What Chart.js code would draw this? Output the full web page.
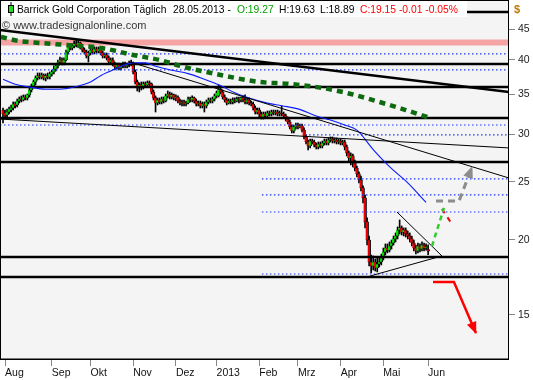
<!DOCTYPE html>
<html><head><meta charset="utf-8">
<script src="https://cdn.jsdelivr.net/npm/chart.js@4.4.0/dist/chart.umd.min.js"></script>
<style>html,body{margin:0;padding:0;background:#fff;}canvas{display:block;}</style>
</head><body>
<canvas id="c" width="533" height="380"></canvas>
<script>
// ---- categories / ticks ----
const monthLabels = ['Aug','Sep','Okt','Nov','Dez','2013','Feb','Mrz','Apr','Mai','Jun'];
const monthIdx = [1,24,43,64,85,105,126,145,166,187,209];
const yTicks = [15,20,25,30,35,40,45];

// ---- daily OHLC (Barrick Gold) ----
const open = [32.95,32.58,32.33,32.70,32.95,33.21,33.73,33.60,34.12,34.38,34.25,34.65,34.52,34.92,35.59,36.15,36.71,37.28,37.57,37.42,
37.71,37.28,37.57,37.42,37.86,38.15,38.59,39.04,39.64,39.94,39.49,39.94,41.19,42.00,41.84,42.16,42.49,42.32,42.65,42.00,
41.51,41.19,40.57,41.04,41.51,41.19,41.67,41.35,41.67,41.04,40.57,40.73,40.26,39.64,39.94,39.34,38.89,39.19,38.74,39.04,
39.34,39.04,39.19,39.49,39.34,38.15,36.71,35.87,36.29,36.01,36.43,36.29,36.57,36.43,35.32,34.52,33.86,34.25,33.99,34.38,
34.12,34.79,35.05,34.65,34.92,34.52,34.65,34.12,33.86,33.99,33.73,33.86,34.38,34.25,34.52,34.12,33.73,33.86,33.47,33.73,
33.47,33.99,34.25,34.12,34.38,34.79,34.79,35.73,35.32,34.65,34.25,33.86,34.12,33.99,34.25,34.12,34.38,34.25,34.52,34.25,
33.99,34.25,33.86,33.73,33.21,32.70,32.95,32.45,32.08,32.45,32.21,32.58,32.45,32.70,32.58,32.70,32.45,32.58,32.45,32.21,
31.83,31.47,30.88,30.40,30.88,31.11,30.88,31.00,30.52,29.71,29.14,28.70,29.25,29.14,28.81,28.59,28.92,28.70,29.03,29.25,
29.03,29.36,29.48,29.25,29.36,29.14,29.25,29.03,29.14,28.59,27.94,27.40,27.62,26.88,26.37,25.77,25.18,24.42,23.50,21.43,
19.99,18.37,18.09,18.37,17.95,18.23,18.37,18.65,19.09,19.38,19.23,19.53,19.76,20.07,20.30,20.77,20.94,20.61,20.77,20.46,
20.30,20.07,19.76,19.38,19.16,19.53,19.31,19.61,19.38,19.27];
const high = [33.21,32.95,33.08,33.34,33.60,33.99,33.99,34.38,34.65,34.79,34.92,34.92,35.05,35.87,36.43,36.99,37.57,38.00,38.00,38.00,
37.86,37.86,38.00,38.15,38.44,39.04,39.34,39.94,40.41,40.26,40.26,41.51,42.32,42.49,42.49,42.97,43.14,43.14,42.81,42.32,
41.84,41.51,41.35,41.84,41.84,42.00,42.00,42.00,41.84,41.35,41.04,41.04,40.57,40.26,40.26,39.64,39.49,39.49,39.34,39.64,
39.64,39.49,39.79,39.94,39.64,38.44,36.99,36.57,36.71,36.71,36.71,36.85,36.85,36.57,35.59,34.79,34.52,34.52,34.65,34.65,
35.05,35.46,35.32,35.19,35.05,34.92,34.79,34.38,34.25,34.25,34.12,34.65,34.65,34.79,34.65,34.38,34.12,34.12,33.99,33.99,
34.25,34.52,34.52,34.65,35.05,35.46,36.29,36.01,35.59,34.92,34.52,34.38,34.38,34.52,34.52,34.65,34.65,34.65,34.79,34.92,
34.52,34.52,34.12,33.99,33.47,33.21,33.21,32.70,32.70,32.70,32.83,32.83,32.95,32.95,32.95,32.95,32.83,33.47,32.70,32.45,
32.08,31.71,31.11,31.11,31.35,31.35,31.23,31.23,30.76,29.94,29.36,29.48,29.48,29.36,29.03,29.14,29.14,29.25,29.48,29.48,
29.59,29.71,29.71,29.59,29.59,29.48,29.48,29.36,29.36,28.81,28.15,27.94,27.83,27.19,26.57,25.97,25.57,24.61,23.77,21.76,
20.30,18.87,18.80,18.58,18.65,18.73,18.94,19.38,19.69,19.69,19.84,19.99,20.30,20.54,21.02,21.59,21.10,20.94,20.94,20.69,
20.54,20.30,19.99,19.61,19.76,19.69,19.84,19.76,19.69,19.63];
const low = [31.35,31.96,32.08,32.45,32.70,32.95,33.21,33.34,33.86,33.99,34.12,34.25,34.25,34.65,35.32,35.87,36.29,36.99,37.13,37.13,
36.99,36.85,37.13,37.13,37.57,37.86,38.29,38.74,39.34,39.19,39.19,39.79,40.88,41.51,41.51,41.84,42.00,42.00,41.67,41.19,
40.88,40.26,39.64,40.73,40.88,40.88,41.04,41.04,40.73,40.26,40.26,39.94,39.34,39.34,39.04,38.44,38.59,38.44,38.44,38.74,
38.74,38.74,38.89,39.04,37.86,36.43,35.46,35.32,35.59,35.73,36.01,36.01,36.15,35.05,34.25,32.70,33.60,33.73,33.73,33.86,
33.99,34.52,34.38,34.38,34.25,34.12,33.86,33.60,33.47,33.47,33.47,33.73,33.99,33.99,33.86,33.47,33.47,33.21,33.21,32.70,
33.21,33.73,33.86,33.86,34.12,34.52,34.65,35.05,34.38,33.99,33.60,33.73,33.73,33.73,33.86,33.99,33.86,33.99,33.99,33.73,
33.73,33.60,33.47,32.95,32.45,32.45,32.08,31.83,31.83,31.96,32.08,32.21,32.21,32.33,32.33,32.21,32.21,32.21,31.96,31.59,
31.23,30.64,30.17,30.17,30.64,30.64,30.76,30.28,29.48,28.92,28.26,28.48,28.92,28.59,28.37,28.37,28.48,28.48,28.81,28.81,
28.81,29.14,29.03,29.03,28.92,28.92,28.81,28.81,28.26,27.62,26.98,26.68,26.47,26.06,25.47,24.90,24.14,23.05,20.94,19.61,
18.09,17.61,17.81,17.74,17.68,18.02,18.16,18.51,18.87,19.02,19.09,19.31,19.61,19.84,20.07,20.46,20.38,20.30,20.22,20.07,
19.84,19.53,19.16,18.94,19.02,19.09,19.16,19.16,19.23,18.89];
const close = [32.45,32.21,32.70,33.08,33.21,33.73,33.47,34.12,34.38,34.25,34.65,34.52,34.92,35.59,36.15,36.71,37.28,37.57,37.42,37.71,
37.28,37.57,37.42,37.86,38.15,38.59,39.04,39.64,39.94,39.49,39.94,41.19,42.00,41.84,42.16,42.49,42.32,42.65,42.00,41.51,
41.19,40.57,41.04,41.51,41.19,41.67,41.35,41.67,41.04,40.57,40.73,40.26,39.64,39.94,39.34,38.89,39.19,38.74,39.04,39.34,
39.04,39.19,39.49,39.34,38.15,36.71,35.87,36.29,36.01,36.43,36.29,36.57,36.43,35.32,34.52,33.86,34.25,33.99,34.38,34.12,
34.79,35.05,34.65,34.92,34.52,34.65,34.12,33.86,33.99,33.73,33.86,34.38,34.25,34.52,34.12,33.73,33.86,33.47,33.73,33.47,
33.99,34.25,34.12,34.38,34.79,35.19,35.73,35.32,34.65,34.25,33.86,34.12,33.99,34.25,34.12,34.38,34.25,34.52,34.25,33.99,
34.25,33.86,33.73,33.21,32.70,32.95,32.45,32.08,32.45,32.21,32.58,32.45,32.70,32.58,32.70,32.45,32.58,32.45,32.21,31.83,
31.47,30.88,30.40,30.88,31.11,30.88,31.00,30.52,29.71,29.14,28.70,29.25,29.14,28.81,28.59,28.92,28.70,29.03,29.25,29.03,
29.36,29.48,29.25,29.36,29.14,29.25,29.03,29.14,28.59,27.94,27.40,27.62,26.88,26.37,25.77,25.18,24.42,23.50,21.43,19.99,
18.37,18.09,18.37,17.95,18.23,18.37,18.65,19.09,19.38,19.23,19.53,19.76,20.07,20.30,20.77,20.94,20.61,20.77,20.46,20.30,
20.07,19.76,19.38,19.16,19.53,19.31,19.61,19.38,19.46,19.15];

// ---- moving averages ----
const maBlueIdx = [0,6,13,21,28,35,43,48,53,58,64,70,75,83,91,99,107,114,121,129,137,145,153,161,168,174,182,190,199,208];
const maBlueVal = [37.1,36.4,36.0,35.7,35.7,36.0,36.7,37.6,38.3,39.0,39.5,39.5,39.0,38.4,37.9,37.1,36.2,35.2,34.5,33.9,33.5,33.1,32.3,31.7,31.1,30.5,28.3,26.5,24.9,23.1];
const maGreenIdx = [-1,8,18,31,48,64,77,89,107,126,141,157,171,185,198,210];
const maGreenVal = [43.64,42.97,42.65,42.32,41.84,40.73,39.94,38.89,37.71,36.71,36.43,35.87,35.05,33.99,32.95,31.96];

// ---- drawn levels & trend lines (price units, day index) ----
const X_MIN = -1.475, X_MAX = 248.77;
const Y_MIN = 12.60, Y_MAX = 50.31;
const hLevels = [48.04, 39.34, 36.01, 31.96, 26.98, 18.73, 17.34];
const zoneLevel = 42.72;
const dotLevels = [40.88, 38.44, 31.11, 29.94, 25.28, 23.77, 22.26, 17.54];
const dotStart  = [X_MIN, X_MIN, X_MIN, 148.5, 127.3, 127.3, 127.3, 127.3];
const trendThickX = [X_MIN, X_MAX], trendThickY = [44.83, 35.33];
const trendThin1X = [X_MIN, X_MAX], trendThin1Y = [31.83, 28.48];
const trendThin2X = [62.4, X_MAX],  trendThin2Y = [39.64, 25.37];
const triUpX = [193.7, 215.8], triUpY = [22.26, 18.80];
const triLoX = [180.4, 215.8], triLoY = [17.40, 18.80];
const grayArrowX = [212.9, 224.2, 230.6], grayArrowY = [23.22, 23.22, 26.47];
const greenDashX = [210.9, 216.8], greenDashY = [19.53, 22.61];
const redDashX = [215.8, 220.7], redDashY = [22.52, 21.26];
const redArrowX = [211.4, 221.7, 232.5], redArrowY = [17.01, 17.01, 13.98];

const FONT = "'Liberation Sans', Arial, sans-serif";
const UP = '#00e000', DOWN = '#ee0000';

function lineDs(xs, ys, color, width, dash, order, extra) {
  return Object.assign({
    type: 'line',
    data: xs.map((x, k) => ({x: x, y: ys[k]})),
    borderColor: color, borderWidth: width, borderDash: dash || [],
    pointRadius: 0, tension: 0, fill: false, order: order
  }, extra || {});
}

const datasets = [];
datasets.push(lineDs([X_MIN, X_MAX], [zoneLevel, zoneLevel], '#f5a3a3', 6, null, 30));
datasets.push({
  type: 'bar', order: 21, grouped: false,
  data: close.map((c, i) => ({x: i, y: [low[i], high[i]]})),
  backgroundColor: '#000', borderWidth: 0, barThickness: 1
});
datasets.push({
  type: 'bar', order: 20, grouped: false,
  data: close.map((c, i) => ({x: i, y: [open[i], c]})),
  backgroundColor: close.map((c, i) => c >= open[i] ? UP : DOWN),
  borderColor: '#000', borderWidth: {left: 0, right: 1, top: 0.5, bottom: 0.5}, borderSkipped: false, barThickness: 3
});
hLevels.forEach(v => datasets.push(lineDs([X_MIN, X_MAX], [v, v], '#000', 2.5, null, 5)));
dotLevels.forEach((v, k) => datasets.push(lineDs([dotStart[k], X_MAX], [v, v], '#1a35ff', 1.2, [1.5, 2.5], 6)));
datasets.push(lineDs(maBlueIdx, maBlueVal, '#0a1cff', 1.1, null, 4, {cubicInterpolationMode: 'monotone'}));
datasets.push(lineDs(maGreenIdx, maGreenVal, '#0e6a0e', 4.5, [6, 5], 3, {cubicInterpolationMode: 'monotone'}));
datasets.push(lineDs(trendThickX, trendThickY, '#000', 2.5, null, 2));
datasets.push(lineDs(trendThin1X, trendThin1Y, '#000', 1, null, 2));
datasets.push(lineDs(trendThin2X, trendThin2Y, '#000', 1, null, 2));
datasets.push(lineDs(triUpX, triUpY, '#000', 1, null, 2));
datasets.push(lineDs(triLoX, triLoY, '#000', 1, null, 2));
datasets.push(lineDs(grayArrowX, grayArrowY, '#8c8c8c', 3, [7, 5], 1));
datasets.push(lineDs(greenDashX, greenDashY, '#30cc30', 2.5, [5, 4], 1));
datasets.push(lineDs(redDashX, redDashY, '#ee0000', 2, [5, 5], 1));
datasets.push(lineDs(redArrowX, redArrowY, '#ff0000', 2.5, null, 1));

const decorPlugin = {
  id: 'decor',
  beforeDatasetsDraw(chart) {
    const a = chart.chartArea, ctx = chart.ctx;
    ctx.save(); ctx.fillStyle = '#f4f4f4';
    ctx.fillRect(a.left, a.top, a.right - a.left, a.bottom - a.top);
    ctx.restore();
  },
  afterDatasetsDraw(chart) {
    const ctx = chart.ctx, xs = chart.scales.x, ys = chart.scales.y;
    function head(X, Y, color) {
      const n = X.length;
      const x1 = xs.getPixelForValue(X[n-2]), y1 = ys.getPixelForValue(Y[n-2]);
      const x2 = xs.getPixelForValue(X[n-1]), y2 = ys.getPixelForValue(Y[n-1]);
      const dx = x2 - x1, dy = y2 - y1, len = Math.hypot(dx, dy);
      const ux = dx / len, uy = dy / len, L = 11, W = 5;
      const bx = x2 - ux * L, by = y2 - uy * L;
      ctx.save(); ctx.fillStyle = color; ctx.beginPath();
      ctx.moveTo(x2 + ux * 1, y2 + uy * 1);
      ctx.lineTo(bx - uy * W, by + ux * W);
      ctx.lineTo(bx + uy * W, by - ux * W);
      ctx.closePath(); ctx.fill(); ctx.restore();
    }
    head(grayArrowX, grayArrowY, '#8c8c8c');
    head(redArrowX, redArrowY, '#ff0000');
  },
  afterDraw(chart) {
    const ctx = chart.ctx, a = chart.chartArea;
    ctx.save();
    // title box
    ctx.fillStyle = '#fff';
    ctx.fillRect(0, 0, 467, 17);
    // candle icon
    ctx.fillStyle = '#000'; ctx.fillRect(10.5, 2, 1, 14);
    ctx.fillStyle = '#000'; ctx.fillRect(8, 5, 6, 8);
    ctx.fillStyle = '#22dd22'; ctx.fillRect(9, 6, 4, 6);
    // frame
    ctx.strokeStyle = '#000'; ctx.lineWidth = 1;
    ctx.strokeRect(a.left + 0.5, a.top + 0.5, a.right - a.left - 1, a.bottom - a.top - 1);
    ctx.fillStyle = '#000'; ctx.fillRect(a.left, a.bottom - 1.5, a.right - a.left, 1.5);
    // title text
    ctx.textBaseline = 'alphabetic';
    ctx.font = '10.3px ' + FONT;
    const parts = [
      ['Barrick Gold Corporation Täglich', 17, '#000'],
      ['28.05.2013 -', 173, '#000'],
      ['O:19.27', 237, '#00a000'],
      ['H:19.63', 279, '#000'],
      ['L:18.89', 320, '#000'],
      ['C:19.15 -0.01 -0.05%', 360, '#ff0000']
    ];
    parts.forEach(p => { ctx.fillStyle = p[2]; ctx.fillText(p[0], p[1], 13); });
    // copyright
    ctx.font = '11px ' + FONT; ctx.fillStyle = '#3a3a3a';
    ctx.fillText('\u00A9 www.tradesignalonline.com', 2, 29);
    // currency
    ctx.font = 'bold 11px ' + FONT; ctx.fillStyle = '#c07a00';
    ctx.fillText('$', 514, 13);
    ctx.restore();
  }
};

new Chart(document.getElementById('c'), {
  type: 'bar',
  data: { datasets: datasets },
  options: {
    responsive: false, animation: false, events: [],
    layout: { padding: 0, autoPadding: false },
    plugins: { legend: {display: false}, tooltip: {enabled: false}, title: {display: false} },
    scales: {
      x: {
        type: 'linear', min: X_MIN, max: X_MAX, offset: false,
        grid: { display: true, drawOnChartArea: false, drawTicks: true, tickLength: 6, color: '#888', offset: false },
        border: { display: false },
        afterBuildTicks: s => { s.ticks = monthIdx.map(v => ({value: v})); },
        afterFit: s => { s.height = 20; s.paddingLeft = 0; s.paddingRight = 0; },
        ticks: { autoSkip: false, maxRotation: 0, minRotation: 0, align: 'start', padding: 1, color: '#111',
          font: { family: FONT, size: 10.5 }, callback: (v, i) => monthLabels[i] }
      },
      y: {
        type: 'logarithmic', position: 'right', min: Y_MIN, max: Y_MAX,
        grid: { display: true, drawOnChartArea: false, drawTicks: true, tickLength: 6, color: '#888' },
        border: { display: false },
        afterBuildTicks: s => { s.ticks = yTicks.map(v => ({value: v})); },
        afterFit: s => { s.width = 24; s.paddingTop = 0; s.paddingBottom = 0; },
        ticks: { padding: 3, color: '#222', font: { family: FONT, size: 10.5 }, callback: v => String(v) }
      }
    }
  },
  plugins: [decorPlugin]
});
</script>
</body></html>
